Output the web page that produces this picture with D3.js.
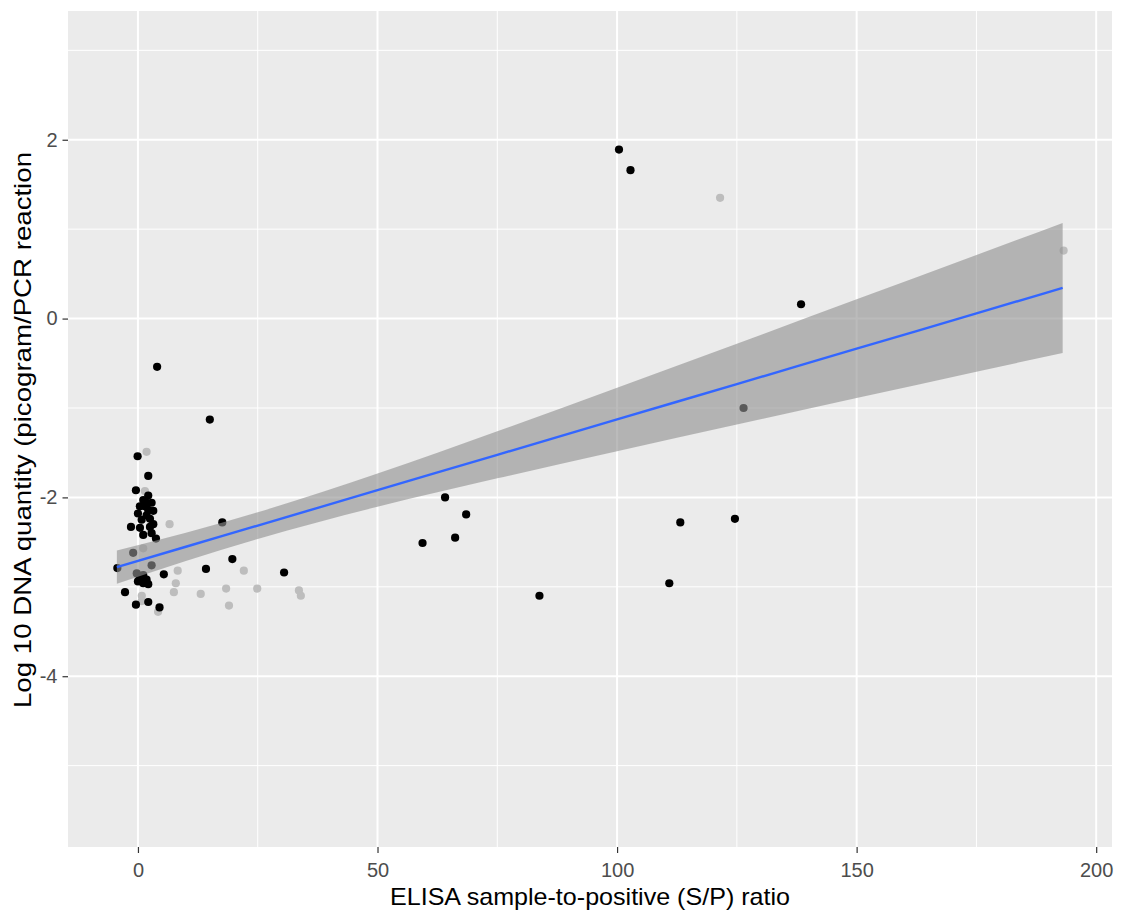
<!DOCTYPE html>
<html>
<head>
<meta charset="utf-8">
<script src="https://cdn.jsdelivr.net/npm/d3@7"></script>
<style>
  html, body { margin: 0; padding: 0; background: #fff; }
  text { font-family: "Liberation Sans", Arial, sans-serif; }
</style>
</head>
<body>
<svg id="chart" width="1121" height="918"></svg>
<script>
// ---- data ----
const blackX = [15.0, 4.0, -0.07, 2.15, -0.42, 2.15, 1.11, 1.81, 1.46, 2.15, 1.81, 2.51, 0.77, -1.46, 0.42, 2.51, 2.85, 3.76,
                -1.0, 2.85, -0.25, 1.1, -4.3, 5.4, 14.2, 17.6, 19.7, 30.5, 0.0, 1.1, 2.15, -2.7, -0.42, 2.15, 4.5,
                64.1, 68.5, 66.2, 59.4, 83.8, 100.4, 102.8, 138.4, 126.4, 113.2, 124.6, 110.9,
                3.2, 0.0, 2.85, 1.1, 0.4, 3.2, 0.4, 1.8];
const blackY = [-1.13, -0.54, -1.54, -1.76, -1.92, -1.98, -2.03, -2.06, -2.10, -2.14, -2.20, -2.24, -2.25, -2.33, -2.34, -2.33, -2.40, -2.46,
                -2.62, -2.76, -2.85, -2.87, -2.79, -2.86, -2.80, -2.28, -2.69, -2.84, -2.94, -2.96, -2.97, -3.06, -3.20, -3.17, -3.23,
                -2.00, -2.19, -2.45, -2.51, -3.10, 1.89, 1.66, 0.16, -1.00, -2.28, -2.24, -2.96,
                -2.30, -2.18, -2.06, -2.42, -2.10, -2.15, -2.91, -2.92];
const grayX = [1.8, 1.46, 6.6, 8.3, 7.9, 7.5, 13.1, 18.4, 24.9, 33.6, 34.0, 19.0, 22.1, 4.2, 0.8, 0.8, 1.1, 121.5, 193.2];
const grayY = [-1.49, -1.93, -2.30, -2.82, -2.96, -3.06, -3.08, -3.02, -3.02, -3.04, -3.10, -3.21, -2.82, -3.28, -3.10, -3.16, -2.57, 1.35, 0.76];

// linear smooth with confidence band
const smoothX     = [-4.4, 10, 25, 50, 75, 100, 125, 150, 175, 193];
const smoothFit   = [-2.780, -2.552, -2.315, -1.919, -1.524, -1.128, -0.733, -0.337, 0.058, 0.343];
const smoothLower = [-2.967, -2.710, -2.464, -2.105, -1.787, -1.483, -1.185, -0.889, -0.595, -0.384];
const smoothUpper = [-2.593, -2.394, -2.166, -1.733, -1.261, -0.773, -0.281, 0.215, 0.711, 1.070];

const xTicks = [0, 50, 100, 150, 200];
const xMinor = [25, 75, 125, 175];
const yTicks = [-4, -2, 0, 2];
const yMinor = [-5, -3, -1, 1, 3];

const xTitle = "ELISA sample-to-positive (S/P) ratio";
const yTitle = "Log 10 DNA quantity (picogram/PCR reaction";

// ---- layout ----
const svg = d3.select("#chart");
const P = { left: 68, right: 1112, top: 11, bottom: 847 };
const x = d3.scaleLinear().domain([-14.6, 203.3]).range([P.left, P.right]);
const y = d3.scaleLinear().domain([-5.91, 3.44]).range([P.bottom, P.top]);

// panel
svg.append("rect").attr("x", P.left).attr("y", P.top)
  .attr("width", P.right - P.left).attr("height", P.bottom - P.top).attr("fill", "#EBEBEB");

const grid = svg.append("g");
grid.selectAll(".xm").data(xMinor).join("line")
  .attr("x1", d => x(d)).attr("x2", d => x(d)).attr("y1", P.top).attr("y2", P.bottom)
  .attr("stroke", "#fff").attr("stroke-width", 1);
grid.selectAll(".ym").data(yMinor).join("line")
  .attr("y1", d => y(d)).attr("y2", d => y(d)).attr("x1", P.left).attr("x2", P.right)
  .attr("stroke", "#fff").attr("stroke-width", 1);
grid.selectAll(".xM").data(xTicks).join("line")
  .attr("x1", d => x(d)).attr("x2", d => x(d)).attr("y1", P.top).attr("y2", P.bottom)
  .attr("stroke", "#fff").attr("stroke-width", 2);
grid.selectAll(".yM").data(yTicks).join("line")
  .attr("y1", d => y(d)).attr("y2", d => y(d)).attr("x1", P.left).attr("x2", P.right)
  .attr("stroke", "#fff").attr("stroke-width", 2);

// points
const blackPts = blackX.map((v, i) => [v, blackY[i]]);
const grayPts = grayX.map((v, i) => [v, grayY[i]]);
svg.append("g").selectAll("circle").data(grayPts).join("circle")
  .attr("cx", d => x(d[0])).attr("cy", d => y(d[1])).attr("r", 4.1).attr("fill", "#BDBDBD");
svg.append("g").selectAll("circle").data(blackPts).join("circle")
  .attr("cx", d => x(d[0])).attr("cy", d => y(d[1])).attr("r", 4.1).attr("fill", "#000");

// smooth band + line
const sm = smoothX.map((v, i) => ({ x: v, f: smoothFit[i], lo: smoothLower[i], hi: smoothUpper[i] }));
svg.append("path").datum(sm)
  .attr("d", d3.area().x(d => x(d.x)).y0(d => y(d.lo)).y1(d => y(d.hi)).curve(d3.curveMonotoneX))
  .attr("fill", "#919191").attr("fill-opacity", 0.62);
svg.append("path").datum(sm)
  .attr("d", d3.line().x(d => x(d.x)).y(d => y(d.f)).curve(d3.curveMonotoneX))
  .attr("fill", "none").attr("stroke", "#3366FF").attr("stroke-width", 2.4);

// axes
const xAxis = d3.axisBottom(x).tickValues(xTicks).tickSize(6).tickPadding(10).tickFormat(d3.format("d"));
const gx = svg.append("g").attr("transform", `translate(0,${P.bottom})`).call(xAxis);
gx.select(".domain").remove();
gx.selectAll("line").attr("stroke", "#333").attr("stroke-width", 1.2);
gx.selectAll("text").attr("fill", "#4D4D4D").attr("font-size", 20);

const yAxis = d3.axisLeft(y).tickValues(yTicks).tickSize(5.5).tickPadding(5).tickFormat(d3.format("d"));
const gy = svg.append("g").attr("transform", `translate(${P.left},0)`).call(yAxis);
gy.select(".domain").remove();
gy.selectAll("line").attr("stroke", "#333").attr("stroke-width", 1.2);
gy.selectAll("text").attr("fill", "#4D4D4D").attr("font-size", 20).text(d => d < 0 ? "-" + Math.abs(d) : d);

svg.append("text").attr("x", (P.left + P.right) / 2).attr("y", 905)
  .attr("text-anchor", "middle").attr("font-size", 24)
  .attr("textLength", 400).attr("lengthAdjust", "spacingAndGlyphs")
  .attr("fill", "#000").text(xTitle);
svg.append("text").attr("transform", `translate(31,430) rotate(-90)`)
  .attr("text-anchor", "middle").attr("font-size", 24)
  .attr("textLength", 556).attr("lengthAdjust", "spacingAndGlyphs")
  .attr("fill", "#000").text(yTitle);
</script>
</body>
</html>
